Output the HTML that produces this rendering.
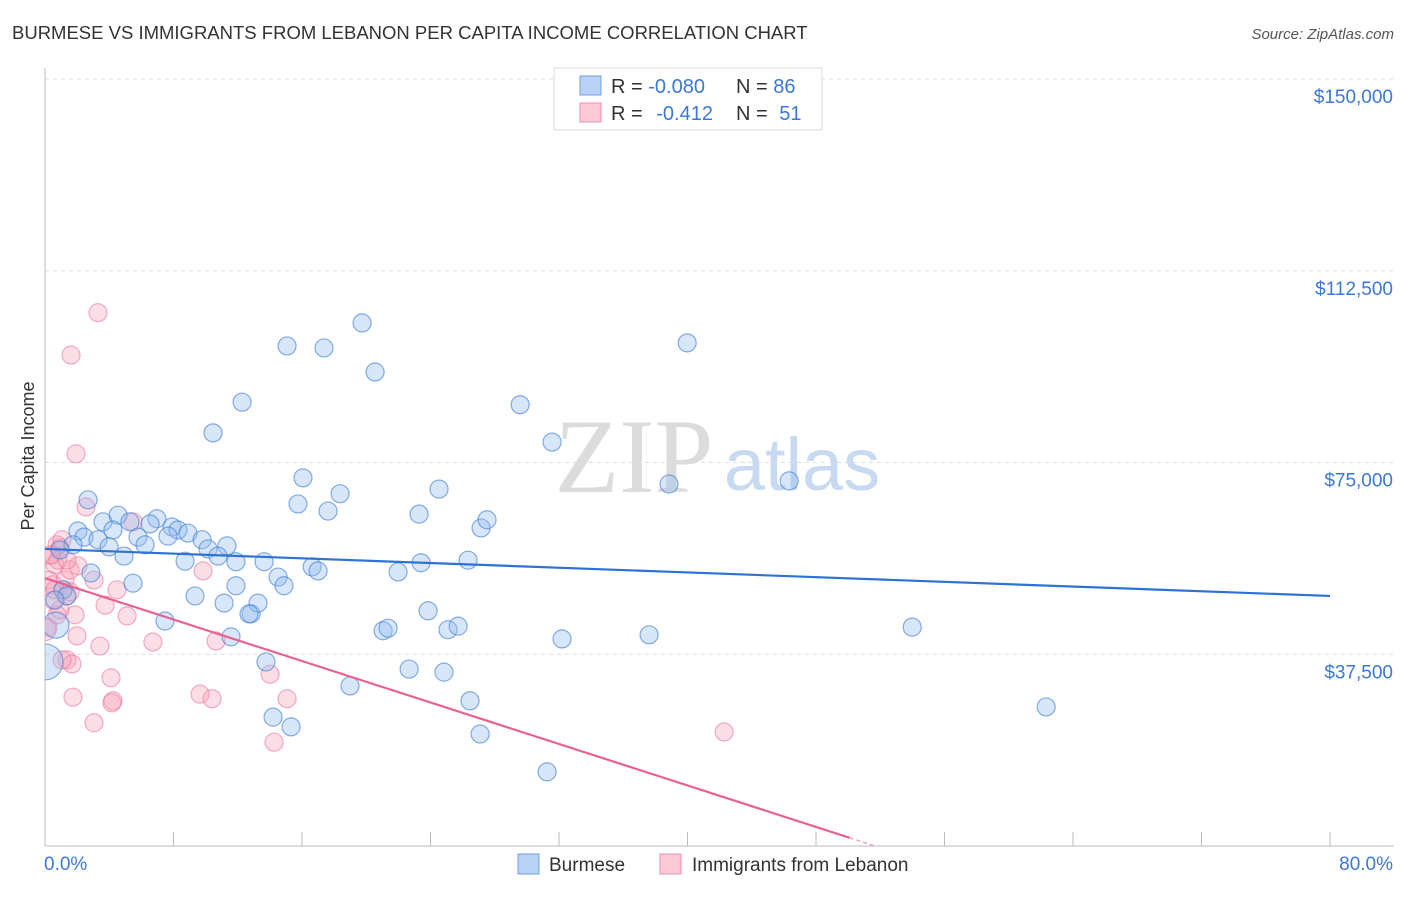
<!DOCTYPE html>
<html><head><meta charset="utf-8"><style>
body{margin:0;background:#fff;font-family:"Liberation Sans",sans-serif;}
svg text{font-family:"Liberation Sans",sans-serif;}
</style></head><body>
<svg id="chart" width="1406" height="892" xmlns="http://www.w3.org/2000/svg">
<text x="12" y="39" font-size="18.5" fill="#333">BURMESE VS IMMIGRANTS FROM LEBANON PER CAPITA INCOME CORRELATION CHART</text>
<text x="1394" y="39" font-size="15" fill="#555" text-anchor="end" font-style="italic">Source: ZipAtlas.com</text>
<g>
<text x="634" y="492" font-size="106" fill="#dcdcdc" text-anchor="middle" style="font-family:'Liberation Serif',serif">ZIP</text>
<text x="802" y="490" font-size="74" fill="#c8daf2" text-anchor="middle">atlas</text>
</g>
<g id="grid"></g>
<g id="axes"></g>
<clipPath id="plotclip"><rect x="45" y="60" width="1360" height="786"/></clipPath>
<g id="pts" clip-path="url(#plotclip)"></g>
<g id="lines"></g>
<text transform="translate(34,456) rotate(-90)" font-size="18" fill="#333" text-anchor="middle">Per Capita Income</text>
<g>
<rect x="554" y="68" width="268" height="62" fill="#fff" stroke="#ddd"/>
<rect x="580" y="76" width="21" height="19" fill="#b8d3f5" stroke="#6fa1e6"/>
<rect x="580" y="103" width="21" height="19" fill="#fbc9d8" stroke="#f08eab"/>
<text x="611" y="93" font-size="20" fill="#333">R = <tspan fill="#3b78d8">-0.080</tspan></text>
<text x="736" y="93" font-size="20" fill="#333">N = <tspan fill="#3b78d8">86</tspan></text>
<text x="611" y="120" font-size="20" fill="#333">R = <tspan fill="#3b78d8" dx="8">-0.412</tspan></text>
<text x="736" y="120" font-size="20" fill="#333">N = <tspan fill="#3b78d8" dx="6">51</tspan></text>
</g>
<g>
<rect x="518" y="854" width="21" height="20" fill="#b8d3f5" stroke="#6fa1e6"/>
<text x="549" y="871" font-size="19" fill="#333">Burmese</text>
<rect x="660" y="854" width="21" height="20" fill="#fbc9d8" stroke="#f08eab"/>
<text x="692" y="871" font-size="19" fill="#333">Immigrants from Lebanon</text>
</g>
</svg>
<script>
const yTicks=[37500,75000,112500,150000];
const yTickLabels=["$37,500","$75,000","$112,500","$150,000"];
const xTickLabels=["0.0%","80.0%"];
const burmeseX=[2.68,2.05,3.61,4.55,5.29,6.97,6.54,7.91,8.28,8.90,2.43,3.30,4.23,5.79,6.23,7.66,9.78,11.33,10.15,10.77,3.99,4.92,8.72,11.89,13.64,14.51,16.63,17.0,5.48,9.34,11.15,12.83,13.26,11.89,14.88,12.7,7.47,11.58,2.86,1.74,1.12,0.68,0.0,13.76,14.2,15.32,18.99,21.05,21.36,22.67,24.84,25.09,25.72,23.85,23.41,21.98,26.34,27.15,27.52,23.29,24.53,18.37,17.62,15.75,16.06,12.27,10.46,15.07,17.37,19.74,20.55,29.58,31.57,26.46,27.09,31.26,32.19,37.61,38.85,39.98,46.33,53.99,62.33,0.93,1.37,0.62];
const burmeseY=[67.7,61.6,63.4,64.7,63.4,64.0,63.0,62.4,61.8,61.2,60.4,59.9,61.8,60.4,58.9,60.6,59.9,58.7,58.1,56.7,58.5,56.7,55.7,55.6,55.6,52.6,54.6,53.8,51.4,48.9,47.5,45.4,47.5,50.9,50.9,45.4,44.0,40.9,53.4,58.9,50.1,43.2,36.0,36.0,25.2,23.3,31.3,42.1,42.6,34.6,34.0,42.3,43.0,46.0,55.4,53.6,55.9,62.2,63.8,64.9,69.8,68.9,65.5,66.9,72.0,86.8,80.8,97.8,97.4,102.3,92.7,86.3,79.0,28.4,21.9,14.5,40.5,41.3,70.8,98.4,71.4,42.8,27.2,57.9,48.9,48.1];
const burmeseR=[9,9,9,9,9,9,9,9,9,9,9,9,9,9,9,9,9,9,9,9,9,9,9,9,9,9,9,9,9,9,9,9,9,9,9,9,9,9,9,9,9,13,18,9,9,9,9,9,9,9,9,9,9,9,9,9,9,9,9,9,9,9,9,9,9,9,9,9,9,9,9,9,9,9,9,9,9,9,9,9,9,9,9,9,9,9];
const lebanonX=[3.30,1.62,1.93,2.55,5.48,0.93,0.75,0.44,0.62,0.25,0.50,1.12,1.25,1.56,2.05,3.05,1.31,1.56,0.75,1.87,0.19,1.99,4.48,5.11,6.72,3.42,9.84,10.65,1.37,1.68,1.06,4.11,1.74,4.23,4.17,3.05,9.65,10.40,14.01,15.07,14.26,42.28,0.50,0.93,0.31,0.81,3.74,1.37,0.0,0.62,1.06];
const lebanonY=[104.3,96.0,76.7,66.3,63.4,58.3,58.9,56.9,55.0,52.0,51.1,50.1,52.0,54.0,54.8,52.0,48.9,49.7,45.2,45.2,42.8,41.1,50.1,45.0,39.9,39.1,53.8,40.1,36.4,35.6,36.4,32.9,29.1,28.4,28.0,24.1,29.7,28.8,33.6,28.8,20.3,22.3,48.1,46.2,56.9,55.9,47.1,55.9,42.3,50.1,59.9];
const trendBurmese=[58.1,48.9];
const trendLebanon=[52.4,-1.014];
const X0=45,X1=1330,Y0=846,YTOP=79;
function sx(p){return X0+(p/80)*(X1-X0);}
function sy(v){return Y0-(v/150000)*(Y0-YTOP);}
const NS="http://www.w3.org/2000/svg";
function mk(t,a,p){const e=document.createElementNS(NS,t);for(const k in a)e.setAttribute(k,a[k]);p.appendChild(e);return e;}
const grid=document.getElementById('grid'),axes=document.getElementById('axes'),pts=document.getElementById('pts'),lines=document.getElementById('lines');
yTicks.forEach((v,i)=>{
 const l=mk('line',{x1:X0,x2:1394,y1:sy(v),y2:sy(v),stroke:'#ddd','stroke-dasharray':'4,4'},grid);
 
 
 const t=mk('text',{x:1393,y:sy(v)+24,'font-size':19,fill:'#3b78d8','text-anchor':'end'},axes);
 t.textContent=yTickLabels[i];
 
 
});
const ya=mk('line',{x1:X0,x2:X0,y1:68,y2:Y0,stroke:'#bbb'},axes);


const xa=mk('line',{x1:X0,x2:1394,y1:Y0,y2:Y0,stroke:'#bbb'},axes);


for(let i=0;i<=10;i++){
 const tk=mk('line',{x1:sx(i*8),x2:sx(i*8),y1:Y0,y2:Y0-14,stroke:'#bbb'},axes);
 
 
}
const xl0=mk('text',{x:44,y:870,'font-size':19,fill:'#3b78d8'},axes);xl0.textContent=xTickLabels[0];


const xl1=mk('text',{x:1393,y:870,'font-size':19,fill:'#3b78d8','text-anchor':'end'},axes);xl1.textContent=xTickLabels[1];


lebanonX.forEach((x,i)=>{
 const c=mk('circle',{cx:sx(x),cy:sy(lebanonY[i]*1000),r:(i==48?11:9),fill:'rgba(246,160,186,0.35)',stroke:'rgba(236,120,155,0.6)','stroke-width':1.2},pts);
 
 
});
burmeseX.forEach((x,i)=>{
 const c=mk('circle',{cx:sx(x),cy:sy(burmeseY[i]*1000),r:burmeseR[i],fill:'rgba(150,190,238,0.38)',stroke:'rgba(70,130,215,0.65)','stroke-width':1.2},pts);
 
 
});
const bl=mk('line',{x1:sx(0),y1:sy(trendBurmese[0]*1000),x2:sx(80),y2:sy(trendBurmese[1]*1000),stroke:'#2f72d6','stroke-width':2.2},lines);


const xEnd=50.1,xZero=-trendLebanon[0]/trendLebanon[1];
const pl=mk('line',{x1:sx(0),y1:sy(trendLebanon[0]*1000),x2:sx(xEnd),y2:sy((trendLebanon[0]+trendLebanon[1]*xEnd)*1000),stroke:'#e8628e','stroke-width':2.2},lines);


const pd=mk('line',{x1:sx(xEnd),y1:sy((trendLebanon[0]+trendLebanon[1]*xEnd)*1000),x2:sx(xZero),y2:sy(0),stroke:'#f0a5bc','stroke-width':1.5,'stroke-dasharray':'4,3'},lines);


</script>
</body></html>
